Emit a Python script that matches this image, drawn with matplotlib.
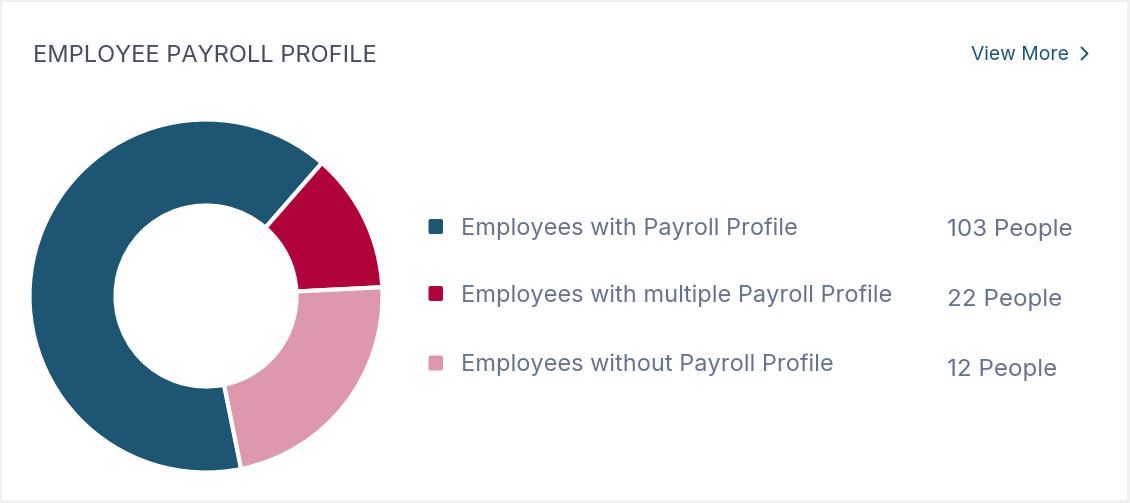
import matplotlib
matplotlib.use("Agg")
import matplotlib.pyplot as plt
from matplotlib.patches import Rectangle, FancyBboxPatch

# ---- data ----
categories = ["Employees with Payroll Profile",
              "Employees with multiple Payroll Profile",
              "Employees without Payroll Profile"]
people = [103, 22, 12]
# slice shares as drawn in the donut (percent)
slice_shares = [64.6, 12.8, 22.6]
colors = ["#1E5572", "#AF0339", "#DE98AE"]
title = "EMPLOYEE PAYROLL PROFILE"
link_text = "View More"

W, H = 1130, 503
DPI = 100
fig = plt.figure(figsize=(W / DPI, H / DPI), dpi=DPI, facecolor="#EFEFF0")

def fx(px):
    return px / W

def fy(py):
    return 1 - py / H

# white card
card = fig.add_axes([0, 0, 1, 1])
card.set_xlim(0, W)
card.set_ylim(H, 0)
card.axis("off")
card.add_patch(Rectangle((2, 2), 1125, 498, facecolor="white", edgecolor="none"))

FONT = ["Inter", "DejaVu Sans"]

# title
card.text(33, 62, title, fontsize=17.0, color="#474F5F", family=FONT,
          va="baseline", ha="left")
# view more link
card.text(971, 60, link_text, fontsize=13.9, color="#1E5572", family=FONT,
          va="baseline", ha="left")
card.plot([1081.5, 1087.5, 1081.5], [47.5, 53.5, 59.5], color="#1E5572",
          lw=1.4, solid_capstyle="round", solid_joinstyle="round")

# donut
cx, cy, R = 206, 296, 176.5
pie_ax = fig.add_axes([fx(cx - R), fy(cy + R), 2 * R / W, 2 * R / H])
pie_ax.pie(slice_shares, colors=colors, startangle=-78.5, counterclock=False,
           radius=1.0,
           wedgeprops=dict(width=(R - 90.5) / R, edgecolor="white",
                           linewidth=3.0))
pie_ax.set_xlim(-1.0, 1.0)
pie_ax.set_ylim(-1.0, 1.0)
pie_ax.set_aspect("equal")
pie_ax.axis("off")

# legend
legend_base = [235, 302, 371.5]
number_base = [236, 306, 376]
for i, (cat, n, col) in enumerate(zip(categories, people, colors)):
    yb = legend_base[i]
    card.add_patch(FancyBboxPatch((428.5, yb - 16), 14.5, 15,
                                  boxstyle="round,pad=0,rounding_size=2",
                                  facecolor=col, edgecolor="none"))
    card.text(461, yb, cat, fontsize=16.95, color="#67738A", family=FONT,
              va="baseline", ha="left")
    card.text(947, number_base[i], f"{n} People", fontsize=17.4,
              color="#67738A", family=FONT, va="baseline", ha="left")

fig.savefig("out.png", dpi=DPI, facecolor=fig.get_facecolor())
